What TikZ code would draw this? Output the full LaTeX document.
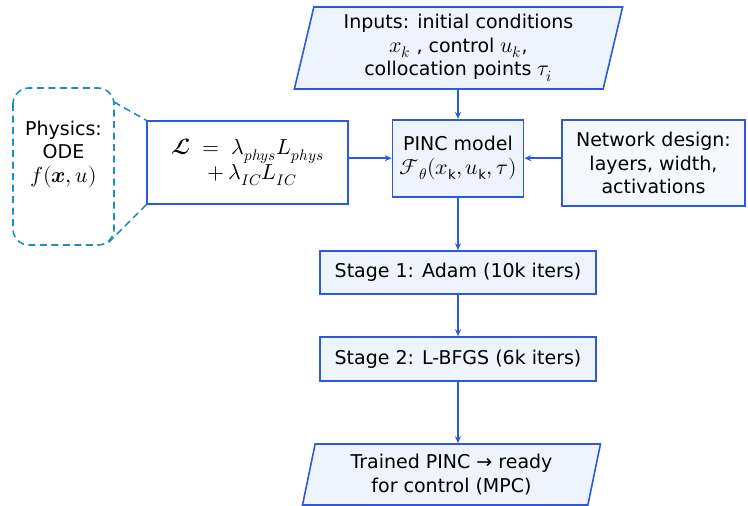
\documentclass[tikz,border=0pt]{standalone}
\usepackage{amsmath}
\usepackage{fontspec}
\usepackage{unicode-math}
\setmainfont{DejaVu Sans}
\setmathfont{Latin Modern Math}[Scale=1.15]
\usetikzlibrary{arrows.meta,shapes.geometric}
\definecolor{edgeblue}{RGB}{45,90,220}
\definecolor{dashblue}{RGB}{30,140,200}
\definecolor{boxfill}{RGB}{238,244,253}
\definecolor{softfill}{RGB}{245,248,253}
\tikzset{
  base/.style={font=\fontsize{19}{23.5}\selectfont, align=center, inner sep=0pt},
  procbox/.style={base, draw=edgeblue, line width=1.6pt, fill=boxfill},
  iobox/.style={base, draw=edgeblue, line width=1.6pt, fill=boxfill,
    trapezium, trapezium left angle=77, trapezium right angle=103,
    trapezium stretches=true},
  flow/.style={draw=edgeblue, line width=1.6pt, -{Stealth[length=7pt,width=6pt]}},
  callout/.style={draw=dashblue, line width=1.6pt, dash pattern=on 7pt off 4.5pt}
}
\begin{document}
\begin{tikzpicture}[x=1pt,y=-1pt]
\useasboundingbox (0,0) rectangle (748,506);

% input parallelogram
\node[iobox, minimum width=329pt, minimum height=82pt] (inp) at (458.5,48)
  {Inputs: initial conditions\\ $x_k$ , control $u_k$,\\ collocation points $\tau_i$};

% central model
\node[procbox, minimum width=131pt, minimum height=77pt] (pinc) at (458,158.2)
  {PINC model\\ $\mathcal{F}_{\theta}(x_{\mathrm{k}}, u_{\mathrm{k}}, \tau)$};

% loss box
\node[procbox, fill=white, minimum width=201pt, minimum height=83pt,
      font=\fontsize{19}{25}\selectfont] (loss) at (247.5,162.5)
  {$\symbfcal{L} \;=\; \lambda_{phys}L_{phys}$\\ \hspace*{10pt}$+\,\lambda_{IC}L_{IC}$};

% network design box
\node[procbox, fill=softfill, minimum width=183pt, minimum height=86pt] (net) at (653.5,163)
  {Network design:\\ layers, width,\\ activations};

% training stages
\node[procbox, minimum width=276pt, minimum height=43pt] (st1) at (458,272.5)
  {Stage 1: Adam (10k iters)};
\node[procbox, minimum width=276pt, minimum height=44pt] (st2) at (458,359)
  {Stage 2: L-BFGS (6k iters)};

% output parallelogram
\node[iobox, minimum width=298pt, minimum height=61pt] (out) at (451.5,474.5)
  {Trained PINC \textrightarrow{} ready\\ for control (MPC)};

% physics callout
\draw[callout, rounded corners=16pt] (13,88) rectangle (114,245);
\node[base] (phys) at (63.5,154) {Physics:\\ ODE\\ $f(\symbfit{x},u)$};
\coordinate (ct) at (114,102);
\coordinate (cb) at (108,243);
\draw[callout] (ct) -- (loss.north west);
\draw[callout] (loss.south west) -- (cb);

% connectors
\draw[flow] (inp.south -| pinc.north) -- (pinc.north);
\draw[flow] (loss.east |- pinc.west) -- (pinc.west);
\draw[flow] (net.west |- pinc.east) -- (pinc.east);
\draw[flow] (pinc.south) -- (pinc.south |- st1.north);
\draw[flow] (st1.south) -- (st2.north);
\draw[flow] (st2.south) -- (st2.south |- out.north);
\end{tikzpicture}
\end{document}
